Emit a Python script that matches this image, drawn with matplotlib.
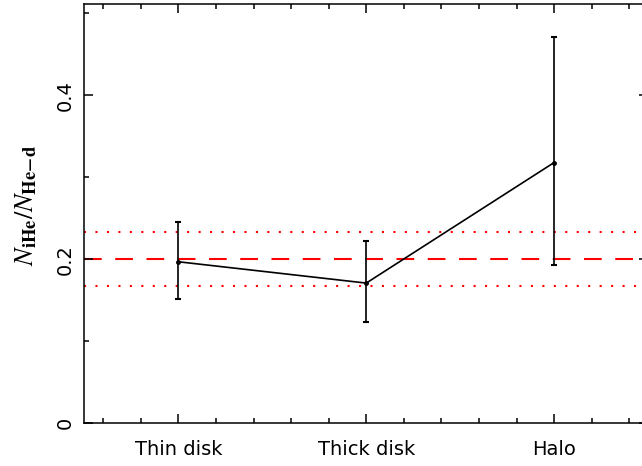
import matplotlib
matplotlib.use("Agg")
import matplotlib.pyplot as plt
from matplotlib.ticker import MultipleLocator

categories = ["Thin disk", "Thick disk", "Halo"]
ratio = [0.197, 0.171, 0.318]
err_low = [0.152, 0.124, 0.193]
err_high = [0.245, 0.222, 0.471]
ref_mean = 0.200
ref_low = 0.167
ref_high = 0.233

plt.rcParams['mathtext.fontset'] = 'stix'

fig = plt.figure(figsize=(6.42, 4.66), dpi=100)
W, H = 642, 466
left, right, top, bottom = 84.5, 648, 4.3, 423.3
ax = fig.add_axes([left / W, (H - bottom) / H, (right - left) / W, (bottom - top) / H])

x = [1, 2, 3]
yerr = [[r - l for r, l in zip(ratio, err_low)], [h - r for r, h in zip(ratio, err_high)]]

ax.axhline(ref_mean, color='red', lw=1.5, ls=(0, (8.5, 6.5)), zorder=1)
ax.axhline(ref_low, color='red', lw=1.5, ls=(0, (1, 4.5)), zorder=1)
ax.axhline(ref_high, color='red', lw=1.5, ls=(0, (1, 4.5)), zorder=1)

ax.errorbar(x, ratio, yerr=yerr, color='black', lw=1.2, elinewidth=1.2,
            capsize=2.5, capthick=1.5, marker='o', ms=2.5, zorder=3)

ax.set_xlim(0.5, 3.5)
ax.set_ylim(0, 0.511)
ax.set_xticks(x)
ax.set_xticklabels(categories)
ax.xaxis.set_minor_locator(MultipleLocator(0.2))
ax.yaxis.set_minor_locator(MultipleLocator(0.1))
ax.set_yticks([0, 0.2, 0.4])
ax.set_yticklabels(['0', '0.2', '0.4'])

ax.tick_params(which='both', direction='in', top=True, right=True, width=1.1, color='black')
ax.tick_params(which='major', length=6.5)
ax.tick_params(which='minor', length=3.3)
ax.tick_params(axis='x', which='major', pad=12, labelsize=14)
ax.tick_params(axis='y', which='major', pad=7, labelsize=14)
for lab in ax.get_yticklabels():
    lab.set_rotation(90)
    lab.set_va('center')

for s in ax.spines.values():
    s.set_linewidth(1.1)

ax.set_ylabel(r'$N_{\mathbf{iHe}}/N_{\mathbf{He\!-\!d}}$', fontsize=19)
ax.yaxis.set_label_coords(-0.08, 0.52)

fig.savefig('out.png', dpi=100)
